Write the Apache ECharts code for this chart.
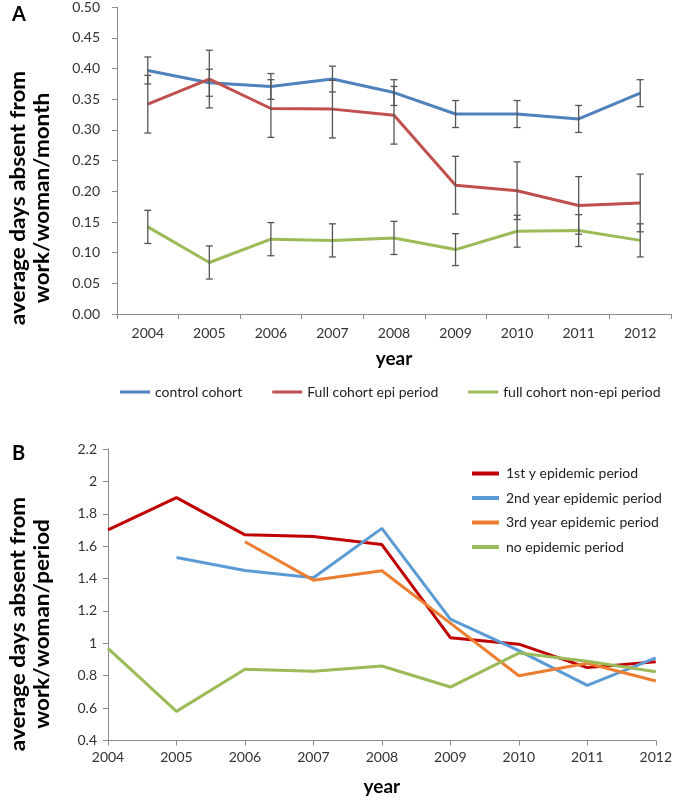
<!DOCTYPE html>
<html>
<head>
<meta charset="utf-8">
<script src="https://cdn.jsdelivr.net/npm/echarts@6/dist/echarts.min.js"></script>
<style>
html,body{margin:0;padding:0;background:#fff;}
#chart{width:675px;height:802px;}
</style>
</head>
<body>
<div id="chart"></div>
<script>
// ---- Data ----
const years = ['2004','2005','2006','2007','2008','2009','2010','2011','2012'];

// Panel A
const controlCohort = [0.397, 0.377, 0.371, 0.383, 0.361, 0.326, 0.326, 0.318, 0.360];
const controlErr    = [0.022, 0.022, 0.021, 0.021, 0.021, 0.022, 0.022, 0.022, 0.022];
const fullEpi       = [0.342, 0.383, 0.335, 0.334, 0.324, 0.210, 0.201, 0.177, 0.181];
const fullEpiErr    = [0.047, 0.047, 0.047, 0.047, 0.047, 0.047, 0.047, 0.047, 0.047];
const fullNonEpi    = [0.142, 0.084, 0.122, 0.120, 0.124, 0.105, 0.135, 0.136, 0.120];
const fullNonEpiErr = [0.027, 0.027, 0.027, 0.027, 0.027, 0.026, 0.026, 0.026, 0.027];

// Panel B
const firstYearEpi  = [1.70, 1.90, 1.67, 1.66, 1.61, 1.035, 0.995, 0.85, 0.887];
const secondYearEpi = [null, 1.53, 1.45, 1.405, 1.71, 1.15, 0.955, 0.74, 0.91];
const thirdYearEpi  = [null, null, 1.627, 1.39, 1.448, 1.125, 0.80, 0.877, 0.767];
const noEpi         = [0.969, 0.58, 0.84, 0.827, 0.86, 0.73, 0.94, 0.89, 0.825];

const namesA = ['control cohort', 'Full cohort epi period', 'full cohort non-epi period'];
const namesB = ['1st y epidemic period', '2nd year epidemic period', '3rd year epidemic period', 'no epidemic period'];

// ---- Helpers ----
const FONT = 'Lato';
function errData(vals, errs) {
  return vals.map((v, i) => [i, v - errs[i], v + errs[i]]);
}
function errRender(params, api) {
  const x = api.value(0);
  const lo = api.coord([x, api.value(1)]);
  const hi = api.coord([x, api.value(2)]);
  const h = 3.5;
  const st = { stroke: '#555', lineWidth: 1.3 };
  return {
    type: 'group',
    children: [
      { type: 'line', shape: { x1: lo[0], y1: lo[1], x2: hi[0], y2: hi[1] }, style: st },
      { type: 'line', shape: { x1: lo[0] - h, y1: lo[1], x2: lo[0] + h, y2: lo[1] }, style: st },
      { type: 'line', shape: { x1: hi[0] - h, y1: hi[1], x2: hi[0] + h, y2: hi[1] }, style: st }
    ]
  };
}
const axisLineStyle = { color: '#8c8c8c', width: 1 };
const labelStyle = { color: '#333', fontFamily: FONT, fontSize: 14 };

const colA = ['#4F81BD', '#C0504D', '#9BBB59'];
const colB = ['#C00000', '#5B9BD5', '#ED7D31', '#9BBB59'];

function lineSeries(name, data, color, axisIdx) {
  return {
    name: name, type: 'line', data: data,
    xAxisIndex: axisIdx, yAxisIndex: axisIdx,
    symbol: 'none', smooth: false, connectNulls: false,
    lineStyle: { color: color, width: 3 }, itemStyle: { color: color },
    z: 2
  };
}
function errSeries(vals, errs) {
  return {
    type: 'custom', xAxisIndex: 0, yAxisIndex: 0,
    data: errData(vals, errs), renderItem: errRender, z: 5, silent: true
  };
}

const option = {
  animation: false,
  backgroundColor: '#fff',
  grid: [
    { left: 117, right: 4, top: 7.3, height: 306.7 },
    { left: 108, right: 15.7, top: 449, height: 291.5 }
  ],
  xAxis: [
    {
      type: 'category', data: years, gridIndex: 0, boundaryGap: true,
      axisLine: { lineStyle: axisLineStyle },
      axisTick: { show: true, length: 5, lineStyle: axisLineStyle },
      axisLabel: Object.assign({ margin: 12 }, labelStyle),
      name: 'year', nameLocation: 'middle', nameGap: 35,
      nameTextStyle: { fontFamily: FONT, fontSize: 19, fontWeight: 'bold', color: '#000', verticalAlign: 'top' }
    },
    {
      type: 'category', data: years, gridIndex: 1, boundaryGap: false,
      axisLine: { lineStyle: axisLineStyle },
      axisTick: { show: true, length: 5, lineStyle: axisLineStyle },
      axisLabel: Object.assign({ margin: 10 }, labelStyle),
      name: 'year', nameLocation: 'middle', nameGap: 37,
      nameTextStyle: { fontFamily: FONT, fontSize: 19, fontWeight: 'bold', color: '#000', verticalAlign: 'top' }
    }
  ],
  yAxis: [
    {
      type: 'value', gridIndex: 0, min: 0, max: 0.5, interval: 0.05,
      axisLine: { show: true, lineStyle: axisLineStyle },
      axisTick: { show: true, length: 5, lineStyle: axisLineStyle },
      splitLine: { show: false },
      axisLabel: Object.assign({ margin: 17, formatter: v => v.toFixed(2) }, labelStyle)
    },
    {
      type: 'value', gridIndex: 1, min: 0.4, max: 2.2, interval: 0.2,
      axisLine: { show: true, lineStyle: axisLineStyle },
      axisTick: { show: true, length: 5, lineStyle: axisLineStyle },
      splitLine: { show: false },
      axisLabel: Object.assign({ margin: 11, formatter: v => String(Math.round(v * 10) / 10) }, labelStyle)
    }
  ],
  legend: [
    {
      data: namesA, left: 120, top: 385, orient: 'horizontal', padding: 0,
      icon: 'rect', itemWidth: 30, itemHeight: 3, itemGap: 30,
      textStyle: { fontFamily: FONT, fontSize: 14, color: '#222' }
    },
    {
      data: namesB, left: 472, top: 466, orient: 'vertical', padding: 0,
      icon: 'rect', itemWidth: 27, itemHeight: 4, itemGap: 9.5,
      textStyle: { fontFamily: FONT, fontSize: 14, color: '#222', lineHeight: 15, padding: [0, 0, 0, 2] }
    }
  ],
  graphic: [
    { type: 'text', left: 12, top: 5, style: { text: 'A', font: 'bold 20px ' + FONT, fill: '#000' } },
    { type: 'text', left: 12, top: 444, style: { text: 'B', font: 'bold 20px ' + FONT, fill: '#000' } },
    {
      type: 'text', x: 30, y: 198, rotation: Math.PI / 2, scaleX: 1.07,
      style: { text: 'average days absent from\nwork/woman/month', font: 'bold 21px ' + FONT, fill: '#000',
               align: 'center', verticalAlign: 'middle', lineHeight: 24 }
    },
    {
      type: 'text', x: 30, y: 624, rotation: Math.PI / 2, scaleX: 1.07,
      style: { text: 'average days absent from\nwork/woman/period', font: 'bold 21px ' + FONT, fill: '#000',
               align: 'center', verticalAlign: 'middle', lineHeight: 24 }
    }
  ],
  series: [
    lineSeries(namesA[0], controlCohort, colA[0], 0),
    lineSeries(namesA[1], fullEpi, colA[1], 0),
    lineSeries(namesA[2], fullNonEpi, colA[2], 0),
    errSeries(controlCohort, controlErr),
    errSeries(fullEpi, fullEpiErr),
    errSeries(fullNonEpi, fullNonEpiErr),
    lineSeries(namesB[0], firstYearEpi, colB[0], 1),
    lineSeries(namesB[1], secondYearEpi, colB[1], 1),
    lineSeries(namesB[2], thirdYearEpi, colB[2], 1),
    lineSeries(namesB[3], noEpi, colB[3], 1)
  ]
};

const chart = echarts.init(document.getElementById('chart'), null, { renderer: 'canvas' });
chart.setOption(option);
</script>
</body>
</html>
